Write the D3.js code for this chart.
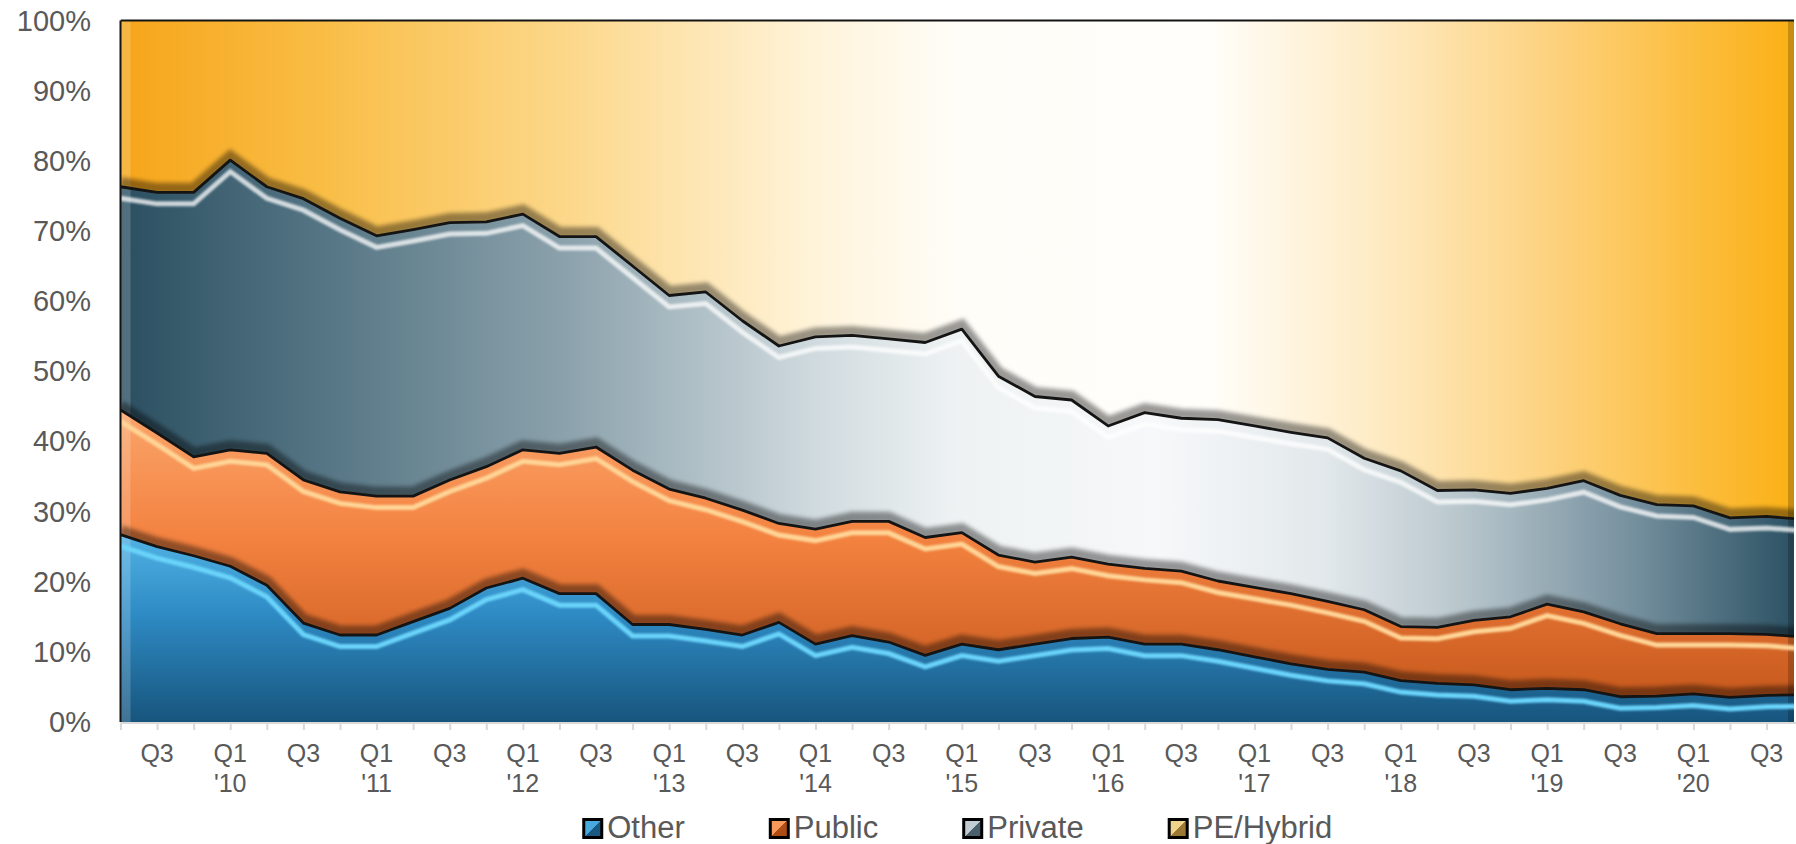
<!DOCTYPE html>
<html>
<head>
<meta charset="utf-8">
<script src="https://cdn.jsdelivr.net/npm/d3@7"></script>
<style>
  html, body { margin: 0; padding: 0; background: #fff; }
  svg { display: block; font-family: "Liberation Sans", Arial, sans-serif; }
</style>
</head>
<body>
<script>
// quarters, Q2 '09 .. Q4 '20 (the last one is only partly shown)
const quarters = [
  "Q2 '09", "Q3 '09", "Q4 '09",
  "Q1 '10", "Q2 '10", "Q3 '10", "Q4 '10",
  "Q1 '11", "Q2 '11", "Q3 '11", "Q4 '11",
  "Q1 '12", "Q2 '12", "Q3 '12", "Q4 '12",
  "Q1 '13", "Q2 '13", "Q3 '13", "Q4 '13",
  "Q1 '14", "Q2 '14", "Q3 '14", "Q4 '14",
  "Q1 '15", "Q2 '15", "Q3 '15", "Q4 '15",
  "Q1 '16", "Q2 '16", "Q3 '16", "Q4 '16",
  "Q1 '17", "Q2 '17", "Q3 '17", "Q4 '17",
  "Q1 '18", "Q2 '18", "Q3 '18", "Q4 '18",
  "Q1 '19", "Q2 '19", "Q3 '19", "Q4 '19",
  "Q1 '20", "Q2 '20", "Q3 '20", "Q4 '20"
];

// shares in %
const other = [26.7, 25.0, 23.7, 22.2, 19.5, 14.1, 12.4, 12.4, 14.3, 16.2, 19.1, 20.5, 18.3, 18.3, 13.9, 13.9,
  13.2, 12.4, 14.2, 11.1, 12.3, 11.4, 9.5, 11.1, 10.3, 11.1, 11.9, 12.1, 11.1, 11.1, 10.3, 9.3,
  8.3, 7.5, 7.1, 5.9, 5.5, 5.3, 4.6, 4.8, 4.6, 3.6, 3.7, 4.0, 3.5, 3.8, 3.9];
const publicShare = [17.8, 16.2, 14.1, 16.6, 18.8, 20.4, 20.4, 19.8, 17.9, 18.3, 17.3, 18.3, 20.0, 20.9, 22.0, 19.3,
  18.7, 17.8, 14.1, 16.4, 16.3, 17.2, 16.8, 15.9, 13.5, 11.7, 11.6, 10.4, 10.8, 10.4, 9.8, 9.9,
  10.0, 9.7, 8.9, 7.7, 8.0, 9.2, 10.4, 12.0, 11.1, 10.4, 8.9, 8.6, 9.1, 8.7, 8.2];
const privateShare = [31.8, 34.3, 37.7, 41.3, 38.0, 40.1, 39.0, 37.1, 38.0, 36.7, 34.9, 33.6, 30.9, 30.0, 29.1, 27.6,
  29.4, 27.0, 25.3, 27.4, 26.5, 26.0, 27.8, 29.0, 25.5, 23.6, 22.4, 19.7, 22.2, 21.8, 23.0, 23.0,
  23.0, 23.3, 21.6, 22.2, 19.5, 18.6, 17.6, 16.5, 18.7, 18.3, 18.4, 18.2, 16.5, 16.8, 16.8];
const peHybrid = [23.7, 24.5, 24.5, 19.9, 23.7, 25.4, 28.2, 30.7, 29.8, 28.8, 28.7, 27.6, 30.8, 30.8, 35.0, 39.2,
  38.7, 42.8, 46.4, 45.1, 44.9, 45.4, 45.9, 44.0, 50.7, 53.6, 54.1, 57.8, 55.9, 56.7, 56.9, 57.8,
  58.7, 59.5, 62.4, 64.2, 67.0, 66.9, 67.4, 66.7, 65.6, 67.7, 69.0, 69.2, 70.9, 70.7, 71.1];

const seriesNames = ["Other", "Public", "Private", "PE/Hybrid"];
const yTicks = [0, 0.1, 0.2, 0.3, 0.4, 0.5, 0.6, 0.7, 0.8, 0.9, 1];

const width = 1796;
const height = 844;
const plotLeft = 120.5;
const plotRight = 1794;
const plotTop = 20.5;
const plotBottom = 722;
// the plot stops three quarters of the way into the last quarter
const visibleSpan = quarters.length - 1.25;
const textColor = "#595959";

const rows = quarters.map((q, i) => ({
  quarter: q,
  "Other": other[i],
  "Public": publicShare[i],
  "Private": privateShare[i],
  "PE/Hybrid": peHybrid[i]
}));

const x = d3.scaleLinear().domain([0, visibleSpan]).range([plotLeft, plotRight]);
const y = d3.scaleLinear().domain([0, 1]).range([plotBottom, plotTop]);

const svg = d3.select("body").append("svg")
  .attr("width", width)
  .attr("height", height);
const defs = svg.append("defs");

defs.append("filter").attr("id", "blur1").attr("x", "-5%").attr("y", "-50%").attr("width", "110%").attr("height", "200%")
  .append("feGaussianBlur").attr("stdDeviation", 1);
defs.append("filter").attr("id", "blur2").attr("x", "-5%").attr("y", "-50%").attr("width", "110%").attr("height", "200%")
  .append("feGaussianBlur").attr("stdDeviation", 2);

defs.append("clipPath").attr("id", "plot-clip")
  .append("rect")
  .attr("x", plotLeft).attr("y", plotTop - 3)
  .attr("width", plotRight - plotLeft).attr("height", plotBottom - plotTop + 3);

// fills: horizontal sheen for the upper two, vertical shading for the lower two
const seriesStyle = {
  "Other": {
    dir: "v", from: y(0.28), to: y(0),
    stops: [[0, "#55B6E8"], [0.45, "#2E8BC4"], [1, "#17557D"]],
    hi: "#6AD4FA", hiOp: 1,
    swatch: ["#49A9DE", "#1A5A82"]
  },
  "Public": {
    dir: "v", from: y(0.46), to: y(0.02),
    stops: [[0, "#FBA76E"], [0.45, "#F38240"], [1, "#C4561A"]],
    hi: "#FFD596", hiOp: 1,
    swatch: ["#F8985A", "#B04D14"]
  },
  "Private": {
    dir: "h", from: plotLeft, to: plotRight,
    stops: [[0, "#2B4F61"], [0.12, "#557584"], [0.27, "#8DA3AD"], [0.42, "#D2DCE0"], [0.5, "#EEF2F3"],
      [0.62, "#F6F8F9"], [0.72, "#E2E8EB"], [0.8, "#B9C7CD"], [0.9, "#7892A0"], [1, "#2C5264"]],
    hi: "#FFFFFF", hiOp: 0.75,
    swatch: ["#C2CDD3", "#4A606B"]
  },
  "PE/Hybrid": {
    dir: "h", from: plotLeft, to: plotRight,
    stops: [[0, "#F6A51A"], [0.12, "#F9BD45"], [0.27, "#FCD88C"], [0.42, "#FFF4DC"], [0.5, "#FFFDF8"],
      [0.65, "#FFFEFA"], [0.75, "#FEEBC4"], [0.85, "#FDD382"], [0.93, "#FCC046"], [1, "#FBB015"]],
    hi: "#FFE64A", hiOp: 1,
    swatch: ["#F0D48C", "#9C7A33"]
  }
};

seriesNames.forEach((name, k) => {
  const st = seriesStyle[name];
  const g = defs.append("linearGradient")
    .attr("id", "fill-" + k)
    .attr("gradientUnits", "userSpaceOnUse");
  if (st.dir === "h") {
    g.attr("x1", st.from).attr("x2", st.to).attr("y1", 0).attr("y2", 0);
  } else {
    g.attr("x1", 0).attr("x2", 0).attr("y1", st.from).attr("y2", st.to);
  }
  st.stops.forEach(s => g.append("stop").attr("offset", s[0]).attr("stop-color", s[1]));

  const sw = defs.append("linearGradient")
    .attr("id", "swatch-" + k)
    .attr("x1", 0).attr("y1", 0).attr("x2", 1).attr("y2", 1);
  sw.append("stop").attr("offset", 0).attr("stop-color", st.swatch[0]);
  sw.append("stop").attr("offset", 0.5).attr("stop-color", st.swatch[0]);
  sw.append("stop").attr("offset", 0.5).attr("stop-color", st.swatch[1]);
  sw.append("stop").attr("offset", 1).attr("stop-color", st.swatch[1]);
});

const stacked = d3.stack()
  .keys(seriesNames)
  .offset(d3.stackOffsetExpand)(rows);

const area = d3.area()
  .x((d, i) => x(i))
  .y0(d => y(d[0]))
  .y1(d => y(d[1]));
const topLine = d3.line()
  .x((d, i) => x(i))
  .y(d => y(d[1]));
const bottomLine = d3.line()
  .x((d, i) => x(i))
  .y(d => y(d[0]));

const plot = svg.append("g").attr("clip-path", "url(#plot-clip)");

stacked.forEach((s, k) => {
  const st = seriesStyle[s.key];
  defs.append("clipPath").attr("id", "area-clip-" + k)
    .append("path").attr("d", area(s));

  const g = plot.append("g").attr("clip-path", `url(#area-clip-${k})`);

  g.append("path")
    .attr("d", area(s))
    .attr("fill", `url(#fill-${k})`);

  // bevel: lit left edge, shaded right edge
  g.append("rect")
    .attr("x", plotLeft).attr("y", plotTop)
    .attr("width", 10).attr("height", plotBottom - plotTop)
    .attr("fill", "#fff").attr("fill-opacity", 0.18);
  g.append("rect")
    .attr("x", plotRight - 6).attr("y", plotTop)
    .attr("width", 6).attr("height", plotBottom - plotTop)
    .attr("fill", "#000").attr("fill-opacity", 0.2);

  // shadow along the bottom edge
  g.append("path")
    .attr("d", bottomLine(s))
    .attr("transform", "translate(0,-4)")
    .attr("fill", "none")
    .attr("stroke", "#000")
    .attr("stroke-opacity", 0.4)
    .attr("stroke-width", 11)
    .attr("filter", "url(#blur2)");

  // highlight under the top edge
  g.append("path")
    .attr("d", topLine(s))
    .attr("transform", "translate(0,11.5)")
    .attr("fill", "none")
    .attr("stroke", st.hi)
    .attr("stroke-opacity", st.hiOp)
    .attr("stroke-width", 5)
    .attr("filter", "url(#blur1)");
});

stacked.forEach(s => {
  plot.append("path")
    .attr("d", topLine(s))
    .attr("fill", "none")
    .attr("stroke", "#141414")
    .attr("stroke-width", s.key === "PE/Hybrid" ? 2 : 2.8)
    .attr("stroke-linejoin", "round");
});

svg.append("line")
  .attr("x1", plotLeft).attr("x2", plotLeft)
  .attr("y1", plotTop).attr("y2", plotBottom)
  .attr("stroke", "#141414")
  .attr("stroke-width", 2);

// x axis
const xAxis = svg.append("g")
  .attr("transform", `translate(0,${plotBottom + 1})`)
  .call(d3.axisBottom(x)
    .tickValues(d3.range(0, quarters.length - 1))
    .tickSize(7)
    .tickSizeOuter(0)
    .tickFormat(() => ""));
xAxis.select(".domain")
  .attr("d", `M${plotLeft},0H${width}`)
  .attr("stroke", "#D9D9D9")
  .attr("stroke-width", 2);
xAxis.selectAll(".tick line")
  .attr("stroke", "#D9D9D9")
  .attr("stroke-width", 2);

const labelIdx = d3.range(1, quarters.length - 1, 2);
const xLabels = svg.append("g")
  .attr("font-size", 25)
  .attr("fill", textColor)
  .attr("text-anchor", "middle");
labelIdx.forEach(i => {
  const [q, yr] = quarters[i].split(" ");
  xLabels.append("text")
    .attr("x", x(i))
    .attr("y", 761.5)
    .text(q);
  if (q === "Q1") {
    xLabels.append("text")
      .attr("x", x(i))
      .attr("y", 791.5)
      .text(yr);
  }
});

// y axis labels
const yLabels = svg.append("g")
  .attr("font-size", 29)
  .attr("fill", textColor)
  .attr("text-anchor", "end");
yTicks.forEach(t => {
  yLabels.append("text")
    .attr("x", 91)
    .attr("y", y(t))
    .attr("dominant-baseline", "central")
    .text(d3.format(".0%")(t));
});

// legend
const legend = svg.append("g")
  .attr("font-size", 31)
  .attr("fill", textColor);
let lx = 0;
seriesNames.forEach((name, k) => {
  const item = legend.append("g").attr("transform", `translate(${lx},0)`);
  item.append("rect")
    .attr("x", 1.5).attr("y", 819.5)
    .attr("width", 18).attr("height", 18)
    .attr("fill", `url(#swatch-${k})`)
    .attr("stroke", "#000")
    .attr("stroke-width", 3);
  const t = item.append("text")
    .attr("x", 25)
    .attr("y", 838)
    .text(name);
  lx += 25 + t.node().getComputedTextLength() + 84;
});
const legendWidth = lx - 84;
legend.attr("transform", `translate(${(plotLeft + plotRight) / 2 - legendWidth / 2},0)`);
</script>
</body>
</html>
